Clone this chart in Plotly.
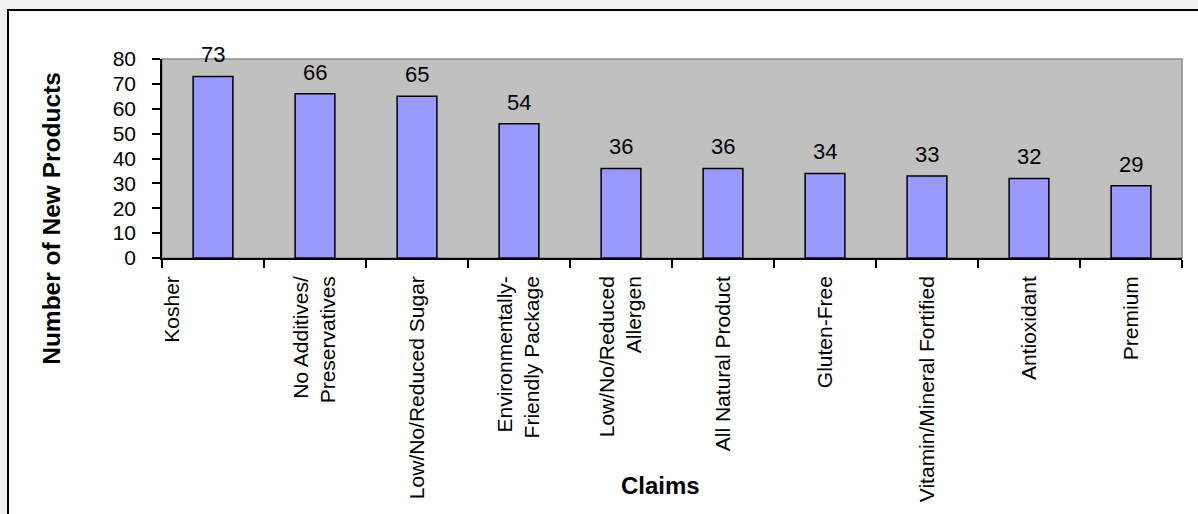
import plotly.graph_objects as go

categories = ["Kosher", "No Additives/<br>Preservatives", "Low/No/Reduced Sugar",
              "Environmentally-<br>Friendly Package", "Low/No/Reduced<br>Allergen",
              "All Natural Product", "Gluten-Free", "Vitamin/Mineral Fortified",
              "Antioxidant", "Premium"]
tick_text = ["Kosher<br> <br> <br> ", "No Additives/<br>Preservatives", "Low/No/Reduced Sugar",
             "Environmentally-<br>Friendly Package", "Low/No/Reduced<br>Allergen",
             "All Natural Product", "Gluten-Free", "Vitamin/Mineral Fortified",
             "Antioxidant", "Premium"]
values = [73, 66, 65, 54, 36, 36, 34, 33, 32, 29]
y_ticks = [0, 10, 20, 30, 40, 50, 60, 70, 80]

FONT = "Arial, Liberation Sans, sans-serif"
W, H = 1198, 514
L, R, T, B = 162, 16, 59, 252
pw = W - L - R
ph = H - T - B

def px_x(x):
    return (x - L) / pw

def px_y(y):
    return (H - B - y) / ph

fig = go.Figure()
fig.add_trace(go.Bar(
    x=categories, y=values,
    marker=dict(color="#9999ff", line=dict(color="black", width=1.5)),
    hoverinfo="skip",
))

annotations = []
for c, v in zip(categories, values):
    annotations.append(dict(x=c, y=v, xref="x", yref="y", text=str(v), showarrow=False,
                            yanchor="bottom", yshift=7,
                            font=dict(family=FONT, size=22, color="black")))
annotations.append(dict(x=px_x(52), y=px_y(222), xref="paper", yref="paper",
                        text="<b>Number of New Products</b>", textangle=-90, showarrow=False,
                        xanchor="center", yanchor="middle",
                        font=dict(family=FONT, size=24.5, color="black")))
annotations.append(dict(x=px_x(660), y=px_y(494), xref="paper", yref="paper",
                        text="<b>Claims</b>", showarrow=False,
                        xanchor="center", yanchor="middle",
                        font=dict(family=FONT, size=24, color="black")))

shapes = [
    dict(type="rect", xref="paper", yref="paper", layer="below",
         x0=px_x(8), x1=px_x(1215), y0=px_y(540), y1=px_y(9),
         fillcolor="white", line=dict(color="black", width=2)),
    dict(type="rect", xref="paper", yref="paper", layer="below",
         x0=0, x1=1, y0=0, y1=1,
         fillcolor="#c0c0c0", line=dict(color="#8c8c8c", width=1.5)),
]

fig.update_layout(
    width=W, height=H,
    margin=dict(l=L, r=R, t=T, b=B, pad=0),
    paper_bgcolor="#f0f0f0",
    plot_bgcolor="#c0c0c0",
    bargap=0.61,
    showlegend=False,
    font=dict(family=FONT, color="black"),
    annotations=annotations,
    shapes=shapes,
    xaxis=dict(
        type="category",
        tickmode="array", tickvals=categories, ticktext=tick_text,
        tickangle=-90, tickson="boundaries",
        ticks="outside", ticklen=8, tickwidth=1.5, tickcolor="black",
        showline=True, linecolor="black", linewidth=1.5,
        showgrid=False, zeroline=False,
        ticklabelstandoff=8,
        tickfont=dict(family=FONT, size=21, color="black"),
        fixedrange=True,
    ),
    yaxis=dict(
        range=[0, 80], tickvals=y_ticks,
        ticks="outside", ticklen=8, tickwidth=1.5, tickcolor="black",
        showline=True, linecolor="black", linewidth=1.5,
        showgrid=False, zeroline=False,
        ticklabelstandoff=12,
        tickfont=dict(family=FONT, size=21, color="black"),
        fixedrange=True,
    ),
)

fig.write_html("out.html", config={"displayModeBar": False})
